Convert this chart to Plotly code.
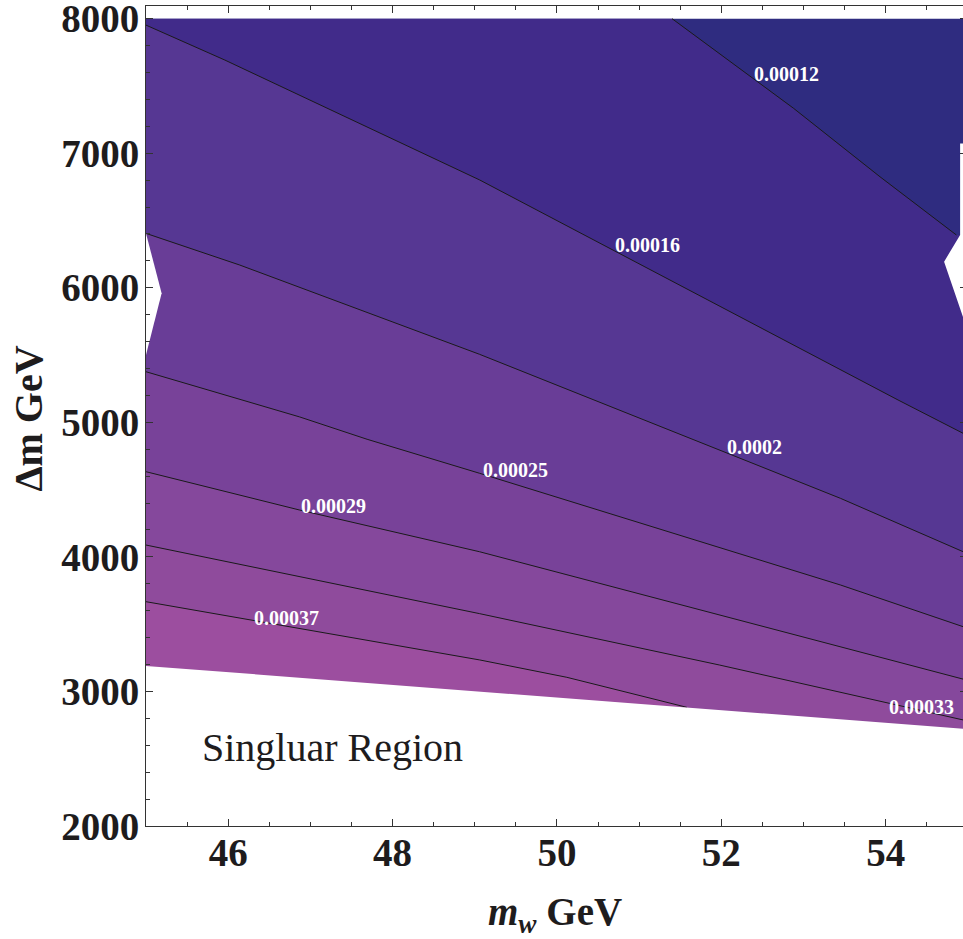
import plotly.graph_objects as go

# ---------------- data ----------------
X_MIN, X_MAX = 45.0, 55.0
Y_MIN, Y_TOP = 2000.0, 8000.0
X_VIEW = [45.0, 54.94]
Y_VIEW = [2000.0, 8094.0]

X_TICKS = [46, 48, 50, 52, 54]
Y_TICKS = [2000, 3000, 4000, 5000, 6000, 7000, 8000]

LEVEL_TEXT = ["0.00012", "0.00016", "0.0002", "0.00025", "0.00029", "0.00033", "0.00037"]

# contour lines (m_w, Δm) for each level
L12_X = [51.40, 52.88, 53.93, 54.86]
L12_Y = [8000, 7333, 6825, 6392]
L16_X = [45.0, 45.96, 49.06, 54.15, 55.0]
L16_Y = [7952, 7692, 6801, 5166, 4900]
L20_X = [45.0, 46.14, 49.06, 52.59, 53.45, 55.0]
L20_Y = [6404, 6169, 5505, 4646, 4435, 4023]
L25_X = [45.0, 46.87, 47.69, 49.06, 53.45, 55.0]
L25_Y = [5376, 5040, 4874, 4621, 3791, 3469]
L29_X = [45.0, 46.87, 49.06, 53.45, 55.0]
L29_Y = [4633, 4348, 4038, 3332, 3082]
L33_X = [45.0, 49.06, 51.98, 55.0]
L33_Y = [4088, 3578, 3196, 2780]
L37_X = [45.0, 49.06, 50.12, 51.58]
L37_Y = [3667, 3234, 3105, 2882]

LINE_START = ["top", "left", "left", "left", "left", "left", "left"]
LINE_END = ["right", "right", "right", "right", "right", "right", "singular"]

# label positions
LABEL_X = [52.79, 51.10, 52.40, 49.49, 47.28, 54.43, 46.71]
LABEL_Y = [7587, 6321, 4813, 4646, 4376, 2884, 3544]

# singular region boundary and undefined notches
SING_X = [45.0, 55.0]
SING_Y = [3190, 2720]
NOTCH_L_X = [45.0, 45.19, 45.0]
NOTCH_L_Y = [6404, 5959, 5500]
NOTCH_R_X = [55.0, 54.905, 54.905, 54.71, 55.0]
NOTCH_R_Y = [7073, 7073, 6392, 6194, 5675]

# band colours, from the lowest values (top) to the highest (bottom)
BAND_COLORS = ["#2F2C80", "#412B8A", "#563793", "#693D97",
               "#784299", "#85489C", "#8F4B9C", "#9C4E9F"]

LINES_X = [L12_X, L16_X, L20_X, L25_X, L29_X, L33_X, L37_X]
LINES_Y = [L12_Y, L16_Y, L20_Y, L25_Y, L29_Y, L33_Y, L37_Y]

SERIF = "Liberation Serif"
INK = "#1e1c1d"

fig = go.Figure()

# background band (lowest values)
fig.add_trace(go.Scatter(
    x=[X_MIN, X_MAX, X_MAX, X_MIN, X_MIN],
    y=[Y_TOP, Y_TOP, Y_MIN, Y_MIN, Y_TOP],
    mode="lines", fill="toself", fillcolor=BAND_COLORS[0],
    line=dict(width=0), hoverinfo="skip", showlegend=False))


def below_polygon(xs, ys, start, end):
    px, py = list(xs), list(ys)
    if start == "top":
        px = [X_MIN] + px
        py = [Y_TOP] + py
    if end == "right":
        if px[-1] < X_MAX:
            px.append(X_MAX)
            py.append(py[-1])
        px.append(X_MAX)
        py.append(Y_MIN)
    else:
        px.append(xs[-1])
        py.append(Y_MIN)
    px += [X_MIN, px[0]]
    py += [Y_MIN, py[0]]
    return px, py


for i in range(len(LINES_X)):
    px, py = below_polygon(LINES_X[i], LINES_Y[i], LINE_START[i], LINE_END[i])
    fig.add_trace(go.Scatter(
        x=px, y=py, mode="lines", fill="toself",
        fillcolor=BAND_COLORS[i + 1], line=dict(width=0),
        hoverinfo="skip", showlegend=False))

for i in range(len(LINES_X)):
    fig.add_trace(go.Scatter(
        x=LINES_X[i], y=LINES_Y[i], mode="lines",
        line=dict(color="#1a1a1a", width=1), hoverinfo="skip",
        showlegend=False, name=LEVEL_TEXT[i]))

# singular region (white)
fig.add_trace(go.Scatter(
    x=SING_X + [SING_X[-1], SING_X[0], SING_X[0]],
    y=SING_Y + [Y_MIN, Y_MIN, SING_Y[0]],
    mode="lines", fill="toself", fillcolor="white",
    line=dict(width=0), hoverinfo="skip", showlegend=False))

# undefined notches (white)
for nx, ny in [(NOTCH_L_X, NOTCH_L_Y), (NOTCH_R_X, NOTCH_R_Y)]:
    fig.add_trace(go.Scatter(
        x=nx + [nx[0]], y=ny + [ny[0]], mode="lines", fill="toself",
        fillcolor="white", line=dict(width=0), hoverinfo="skip",
        showlegend=False))

# contour labels
for t, lx, ly in zip(LEVEL_TEXT, LABEL_X, LABEL_Y):
    fig.add_annotation(x=lx, y=ly, text=t, showarrow=False,
                       xanchor="center", yanchor="middle",
                       font=dict(family=SERIF, size=20, color="white", weight="bold"))

fig.add_annotation(x=47.27, y=2580, text="Singluar Region", showarrow=False,
                   xanchor="center", yanchor="middle",
                   font=dict(family=SERIF, size=40, color=INK))

# axis titles
fig.add_annotation(xref="paper", yref="paper", x=-0.145, y=0.4963,
                   text="Δm GeV", textangle=-90, showarrow=False,
                   xanchor="center", yanchor="middle",
                   font=dict(family=SERIF, size=40, color=INK, weight="bold"))
fig.add_annotation(xref="paper", yref="paper", x=0.5006, y=-0.1085,
                   text="<i>m</i><sub><i>w</i></sub> GeV", showarrow=False,
                   xanchor="center", yanchor="middle",
                   font=dict(family=SERIF, size=39, color=INK, weight="bold"))

axis_common = dict(showgrid=False, zeroline=False, ticks="inside",
                   tickcolor="#333333", tickwidth=1, linecolor="#333333",
                   linewidth=1, automargin=False, ticklabeloverflow="allow")

fig.update_layout(
    width=963, height=939,
    margin=dict(l=146, r=0, t=6, b=113, pad=0),
    paper_bgcolor="white", plot_bgcolor="white",
    template="none", showlegend=False, hovermode=False,
    xaxis=dict(range=X_VIEW, tickvals=X_TICKS, ticklen=7, showline=True,
               mirror="ticks",
               minor=dict(ticks="inside", ticklen=4, dtick=0.5, tick0=0,
                          tickcolor="#333333", showgrid=False),
               tickfont=dict(family=SERIF, size=39, color=INK, weight="bold"),
               ticklabelstandoff=-8, **axis_common),
    yaxis=dict(range=Y_VIEW, tickvals=Y_TICKS, ticklen=7, showline=True,
               mirror=False, tickformat="d",
               minor=dict(ticks="inside", ticklen=4, dtick=200, tick0=0,
                          tickcolor="#333333", showgrid=False),
               tickfont=dict(family=SERIF, size=39, color=INK, weight="bold"),
               ticklabelstandoff=-2, **axis_common),
    yaxis2=dict(range=Y_VIEW, overlaying="y", side="right", anchor="x",
                tickvals=Y_TICKS, ticks="inside", ticklen=3,
                tickcolor="#333333", showticklabels=False, showline=False,
                showgrid=False, zeroline=False),
)

# invisible trace so that the right-hand tick axis is drawn
fig.add_trace(go.Scatter(x=[X_MIN], y=[Y_MIN], yaxis="y2", mode="markers",
                         marker=dict(opacity=0), hoverinfo="skip",
                         showlegend=False))

# the page body gets no margin, so the 963x939 figure fills the window exactly
fig.write_html("out.html",
               config={"displayModeBar": False, "staticPlot": True},
               post_script="document.body.style.margin='0';"
                           "document.body.style.overflow='hidden';")
